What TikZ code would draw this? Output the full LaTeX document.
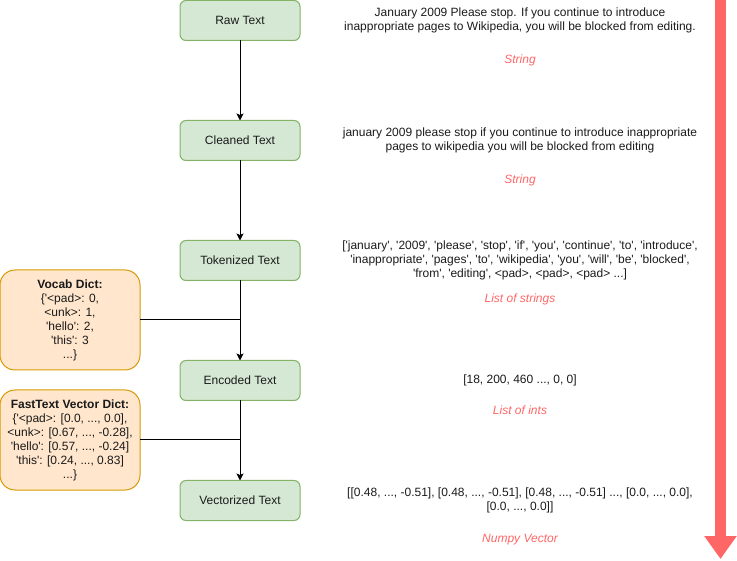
\documentclass[tikz,border=0pt]{standalone}
\usepackage{fontspec}
\setmainfont{Liberation Sans}[Ligatures=TeXOff]
\usepackage{tikz}
\usetikzlibrary{arrows.meta,positioning,calc}
\definecolor{StageGreen}{HTML}{D5E8D4}
\definecolor{StageGreenLine}{HTML}{82B366}
\definecolor{DictOrange}{HTML}{FFE6CC}
\definecolor{DictOrangeLine}{HTML}{D79B00}
\definecolor{TypeRed}{HTML}{FF6666}
\definecolor{InkGray}{HTML}{1A1A1A}
\newcommand{\stagebox}[3]{%
  \node[draw=StageGreenLine, fill=StageGreen, rounded corners=6pt, outer sep=0pt,
        minimum width=120pt, minimum height=40pt, #3] (#1) {#2};}
\newcommand{\dictbox}[3]{%
  \node[draw=DictOrangeLine, fill=DictOrange, rounded corners=15pt, outer sep=0pt,
        minimum width=140pt, minimum height=100pt, align=center, #3] (#1) {#2};}

\begin{document}
\begin{tikzpicture}[x=1pt, y=-1pt, node distance=80pt, line width=1pt,
    >={Stealth[length=7pt,width=7pt,inset=1.5pt]},
    font=\fontsize{12pt}{14pt}\selectfont, text=InkGray,
    desc/.style={align=center, inner sep=0pt},
    typelabel/.style={text=TypeRed, inner sep=0pt, font=\fontsize{12pt}{14pt}\selectfont\itshape}]
    \useasboundingbox (0,0) rectangle (737,561);
    % processing stages
    \stagebox{raw}{Raw Text}{at={(240,20.5)}}
    \stagebox{clean}{Cleaned Text}{below=of raw}
    \stagebox{tok}{Tokenized Text}{below=of clean}
    \stagebox{enc}{Encoded Text}{below=of tok}
    \stagebox{vec}{Vectorized Text}{below=of enc}
    \draw[->] (raw) -- (clean);
    \draw[->] (clean) -- (tok);
    \draw[->] (tok) -- (enc);
    \draw[->] (enc) -- (vec);
    % lookup dictionaries
    \dictbox{vocab}{\textbf{Vocab Dict:}\\\{'<pad>: 0,\\<unk>: 1,\\'hello': 2,\\'this': 3\\...\}}{at={(70,320)}}
    \dictbox{fasttext}{\textbf{FastText Vector Dict:}\\\{'<pad>: [0.0, ..., 0.0],\\<unk>:  [0.67, ..., -0.28],\\'hello':  [0.57, ..., -0.24]\\'this':  [0.24, ..., 0.83]\\...\}}{at={(70,440)}}
    \coordinate (vocabjoin) at (tok |- vocab);
    \coordinate (fastjoin) at (enc |- fasttext);
    \draw (vocab) -- (vocabjoin);
    \draw (fasttext) -- (fastjoin);
    % example data
    \node[desc] (rawdesc) at (520,20) {January 2009 Please stop. If you continue to introduce\\inappropriate pages to Wikipedia, you will be blocked from editing.};
    \node[typelabel] (rawtype) at (520,60) {String};
    \node[desc] (cleandesc) at (520,140) {january 2009 please stop if you continue to introduce inappropriate\\pages to wikipedia you will be blocked from editing};
    \node[typelabel] (cleantype) at (520,180) {String};
    \node[desc] (tokdesc) at (520,260) {['january', '2009', 'please', 'stop', 'if', 'you', 'continue', 'to', 'introduce',\\'inappropriate', 'pages', 'to', 'wikipedia', 'you', 'will', 'be', 'blocked',\\'from', 'editing', <pad>, <pad>, <pad> ...]};
    \node[typelabel] (toktype) at (520,299) {List of strings};
    \node[desc] (encdesc) at (520,380) {[18, 200, 460 ..., 0, 0]};
    \node[typelabel] (enctype) at (520,410) {List of ints};
    \node[desc] (vecdesc) at (520,500) {[[0.48, ..., -0.51], [0.48, ..., -0.51], [0.48, ..., -0.51] ..., [0.0, ..., 0.0],\\{}[0.0, ..., 0.0]]};
    \node[typelabel] (vectype) at (520,540) {Numpy Vector};
    % pipeline direction
    \coordinate (flowtop) at (720.5,0);
    \coordinate (flowend) at (720.5,559);
    \draw[TypeRed, line width=11pt, -{Triangle[width=31pt,length=23pt]}] (flowtop) -- (flowend);
  \end{tikzpicture}
\end{document}
